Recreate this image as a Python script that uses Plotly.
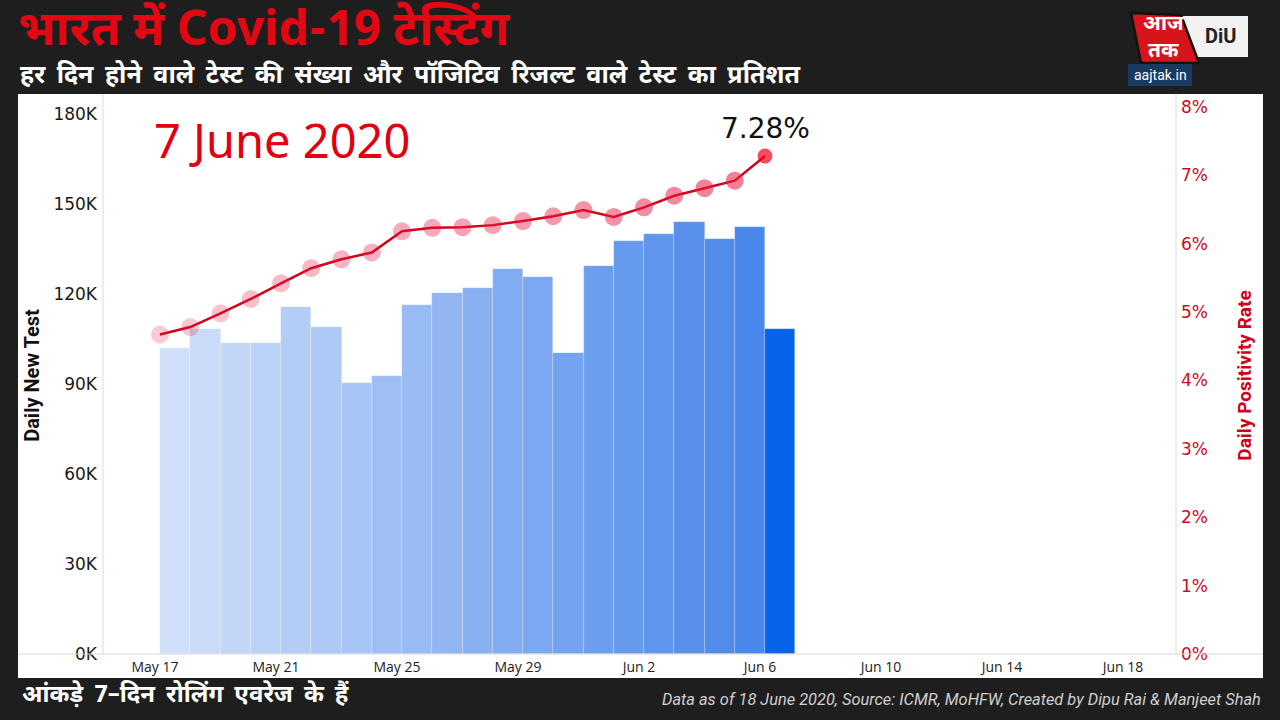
import plotly.graph_objects as go
import pandas as pd

# ---------------- data ----------------
dates = pd.date_range("2020-05-17", "2020-06-06", freq="D")
daily_tests = [102.0, 108.3, 103.7, 103.7, 115.7, 109.0, 90.3, 92.7, 116.3, 120.3,
               122.0, 128.3, 125.7, 100.3, 129.3, 137.7, 140.0, 144.0, 138.3, 142.3,
               108.3]  # thousands
positivity = [4.67, 4.78, 4.98, 5.19, 5.42, 5.64, 5.77, 5.87, 6.18, 6.23,
              6.24, 6.27, 6.33, 6.40, 6.49, 6.39, 6.53, 6.70, 6.81, 6.92,
              7.28]  # percent
x_tick_dates = pd.date_range("2020-05-17", "2020-06-18", freq="4D")
x_tick_text = ["May 17", "May 21", "May 25", "May 29", "Jun 2", "Jun 6", "Jun 10", "Jun 14", "Jun 18"]
y_ticks = [0, 30, 60, 90, 120, 150, 180]
y_tick_text = ["0K", "30K", "60K", "90K", "120K", "150K", "180K"]
y2_ticks = [0, 1, 2, 3, 4, 5, 6, 7, 8]
y2_tick_text = ["0%", "1%", "2%", "3%", "4%", "5%", "6%", "7%", "8%"]

title_text = "भारत में Covid-19 टेस्टिंग"
subtitle_text = "हर दिन होने वाले टेस्ट की संख्या और पॉजिटिव रिजल्ट वाले टेस्ट का प्रतिशत"
footer_left_text = "आंकड़े 7–दिन रोलिंग एवरेज के हैं"
footer_right_text = "Data as of 18 June 2020, Source: ICMR, MoHFW, Created by Dipu Rai &amp; Manjeet Shah"

# ---------------- geometry helpers ----------------
W, H = 1280, 720
L, R, T, B = 103, 1176, 97, 654


def px(x):
    return (x - L) / (R - L)


def py(y):
    return (B - y) / (B - T)


def hex_to_rgb(h):
    h = h.lstrip("#")
    return tuple(int(h[i:i + 2], 16) for i in (0, 2, 4))


def lerp_color(c1, c2, t):
    a, b = hex_to_rgb(c1), hex_to_rgb(c2)
    return "rgb(%d,%d,%d)" % tuple(round(a[i] + (b[i] - a[i]) * t) for i in range(3))


def widen(s):
    return s.replace(" ", " \u2009")


n = len(dates)
bar_colors = [lerp_color("#d0e0fa", "#4a87ea", i / (n - 2)) for i in range(n - 1)] + ["#0764ea"]
marker_colors = ["rgba(232,30,70,%.2f)" % (0.33 + 0.47 * i / (n - 2)) for i in range(n - 1)] + ["#f2001c"]
marker_sizes = [18] * (n - 1) + [15]

bar_x = dates + pd.Timedelta(hours=12)

fig = go.Figure()
fig.add_trace(go.Bar(
    x=bar_x, y=daily_tests, width=86400000,
    marker=dict(color=bar_colors, line=dict(color="rgba(255,255,255,0.35)", width=0.6)),
    showlegend=False, hoverinfo="skip",
))
fig.add_trace(go.Scatter(
    x=dates, y=positivity, yaxis="y2", mode="lines+markers",
    line=dict(color="#d3001b", width=2.5),
    marker=dict(color=marker_colors, size=marker_sizes, line=dict(width=0)),
    showlegend=False, hoverinfo="skip",
))

x0 = pd.Timestamp("2020-05-17") - pd.Timedelta(days=(160 - L) / 30.25)
x1 = pd.Timestamp("2020-05-17") + pd.Timedelta(days=(R - 160) / 30.25)

tick_font = "DejaVu Sans"
fig.update_layout(
    width=W, height=H,
    margin=dict(l=L, r=W - R, t=T, b=H - B),
    paper_bgcolor="#1e1e1e",
    plot_bgcolor="rgba(0,0,0,0)",
    bargap=0,
    xaxis=dict(
        type="date", range=[x0, x1],
        tickvals=list(x_tick_dates), ticktext=x_tick_text,
        tickfont=dict(family="Open Sans", size=14, color="#222222"),
        showgrid=False, zeroline=False, showline=False, ticks="",
        ticklabelstandoff=3, ticklabelshift=-5,
    ),
    yaxis=dict(
        range=[0, (B - T) / 3.0],
        tickvals=y_ticks, ticktext=y_tick_text,
        tickfont=dict(family=tick_font, size=17, color="#1a1a1a"),
        showgrid=False, zeroline=False, showline=False, ticks="",
        ticklabelstandoff=5,
        title=dict(text="<b>Daily New Test</b>", font=dict(family="Roboto", size=20, color="#111111"),
                   standoff=8),
    ),
    yaxis2=dict(
        overlaying="y", side="right",
        range=[0, (B - T) / 68.4],
        tickvals=y2_ticks, ticktext=y2_tick_text,
        tickfont=dict(family=tick_font, size=17, color="#cc0a1e"),
        showgrid=False, zeroline=False, showline=False, ticks="",
        ticklabelstandoff=4,
        title=dict(text="<b>Daily Positivity Rate</b>", font=dict(family="Roboto", size=19, color="#d0001a"),
                   standoff=30),
    ),
)

shapes = [
    # white panel
    dict(type="rect", xref="paper", yref="paper", x0=px(18), x1=px(1263), y0=py(678), y1=py(94),
         fillcolor="white", line=dict(width=0), layer="below"),
    # axis lines
    dict(type="line", xref="paper", yref="paper", x0=px(18), x1=px(1263), y0=0, y1=0,
         line=dict(color="#d9d9d9", width=1)),
    dict(type="line", xref="paper", yref="paper", x0=0, x1=0, y0=0, y1=py(94),
         line=dict(color="#d9d9d9", width=1)),
    dict(type="line", xref="paper", yref="paper", x0=1, x1=1, y0=0, y1=py(94),
         line=dict(color="#d9d9d9", width=1)),
    # logo: DIU box
    dict(type="rect", xref="paper", yref="paper", x0=px(1182), x1=px(1248), y0=py(57), y1=py(16),
         fillcolor="#f2f2f2", line=dict(width=0), layer="above"),
    # logo: red shape
    dict(type="path", xref="paper", yref="paper",
         path="M %f,%f L %f,%f L %f,%f L %f,%f Z" % (px(1131), py(13), px(1181), py(15),
                                                    px(1199), py(63), px(1141), py(63)),
         fillcolor="#d7141a", line=dict(color="#111111", width=2.5), layer="above"),
    # aajtak.in box
    dict(type="rect", xref="paper", yref="paper", x0=px(1128), x1=px(1192), y0=py(86), y1=py(64),
         fillcolor="#193a61", line=dict(width=0), layer="above"),
]
fig.update_layout(shapes=shapes)

deva = "Noto Sans Devanagari, Noto Sans, sans-serif"
annotations = [
    dict(text="<b>%s</b>" % title_text, x=px(16), y=py(33), xref="paper", yref="paper",
         xanchor="left", yanchor="middle", showarrow=False,
         font=dict(family=deva, size=48, color="#e30613")),
    dict(text="<b>%s</b>" % widen(subtitle_text),
         x=px(18), y=py(76), xref="paper", yref="paper",
         xanchor="left", yanchor="middle", showarrow=False,
         font=dict(family=deva, size=25, color="white")),
    dict(text="<b>%s</b>" % widen(footer_left_text), x=px(20), y=py(696), xref="paper", yref="paper",
         xanchor="left", yanchor="middle", showarrow=False,
         font=dict(family=deva, size=24, color="white")),
    dict(text="<i>%s</i>" % footer_right_text,
         x=px(1263), y=py(699), xref="paper", yref="paper",
         xanchor="right", yanchor="middle", showarrow=False,
         font=dict(family="Roboto", size=16.4, color="#cfcfcf")),
    dict(text="7 June 2020", x=px(152), y=py(140), xref="paper", yref="paper",
         xanchor="left", yanchor="middle", showarrow=False,
         font=dict(family="Noto Sans", size=47, color="#e0000f")),
    dict(text="7.28%", x=dates[-1], y=positivity[-1], xref="x", yref="y2",
         xanchor="center", yanchor="bottom", yshift=9, showarrow=False,
         font=dict(family=tick_font, size=28, color="#111111")),
    # logo texts
    dict(text="<b>आज<br>तक</b>", x=px(1163), y=py(38), xref="paper", yref="paper",
         xanchor="center", yanchor="middle", showarrow=False,
         font=dict(family=deva, size=21, color="white")),
    dict(text="<b>DiU</b>", x=px(1220), y=py(36), xref="paper", yref="paper",
         xanchor="center", yanchor="middle", showarrow=False,
         font=dict(family="Roboto", size=20, color="#222222")),
    dict(text="aajtak.in", x=px(1160), y=py(75), xref="paper", yref="paper",
         xanchor="center", yanchor="middle", showarrow=False,
         font=dict(family="Roboto", size=14, color="white")),
]
fig.update_layout(annotations=annotations)

fig.write_html("out.html")
